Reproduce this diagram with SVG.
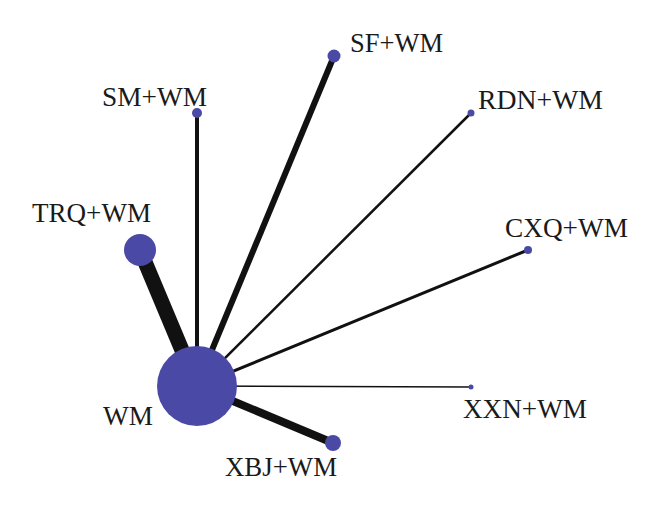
<svg xmlns="http://www.w3.org/2000/svg" width="660" height="512" viewBox="0 0 660 512">
<style>
.n{fill:#4a4aa6}
.e{stroke:#111;stroke-linecap:butt;fill:none}
text{font-family:"Liberation Serif","Times New Roman",serif;font-size:26.5px;fill:#1a1a1a}
</style>
<rect width="660" height="512" fill="#fff"/>
<g id="connectors">
<line class="e" x1="197" y1="386" x2="140" y2="250" stroke-width="15"/>
<line class="e" x1="197" y1="386" x2="197" y2="113" stroke-width="4"/>
<line class="e" x1="197" y1="386" x2="334" y2="56" stroke-width="6"/>
<line class="e" x1="197" y1="386" x2="471" y2="113" stroke-width="2.5"/>
<line class="e" x1="197" y1="386" x2="528" y2="250" stroke-width="3"/>
<line class="e" x1="197" y1="386" x2="471" y2="387" stroke-width="1.6"/>
<line class="e" x1="197" y1="386" x2="333" y2="443" stroke-width="8"/>
</g>
<g id="WM"><circle class="n" cx="197" cy="386" r="40"/><text x="103" y="425" textLength="50" lengthAdjust="spacingAndGlyphs">WM</text></g>
<g id="TRQ_WM"><circle class="n" cx="140" cy="250" r="16"/><text x="32" y="222" textLength="119" lengthAdjust="spacingAndGlyphs">TRQ+WM</text></g>
<g id="SM_WM"><circle class="n" cx="197" cy="113" r="5"/><text x="102" y="106" textLength="105" lengthAdjust="spacingAndGlyphs">SM+WM</text></g>
<g id="SF_WM"><circle class="n" cx="334" cy="56" r="6.5"/><text x="350" y="52" textLength="93" lengthAdjust="spacingAndGlyphs">SF+WM</text></g>
<g id="RDN_WM"><circle class="n" cx="471" cy="113" r="3.5"/><text x="478" y="109" textLength="125" lengthAdjust="spacingAndGlyphs">RDN+WM</text></g>
<g id="CXQ_WM"><circle class="n" cx="528" cy="250" r="4"/><text x="505" y="237" textLength="123" lengthAdjust="spacingAndGlyphs">CXQ+WM</text></g>
<g id="XXN_WM"><circle class="n" cx="471" cy="387" r="2.5"/><text x="463" y="418" textLength="124" lengthAdjust="spacingAndGlyphs">XXN+WM</text></g>
<g id="XBJ_WM"><circle class="n" cx="333" cy="443" r="8"/><text x="225" y="476" textLength="112" lengthAdjust="spacingAndGlyphs">XBJ+WM</text></g>
</svg>
